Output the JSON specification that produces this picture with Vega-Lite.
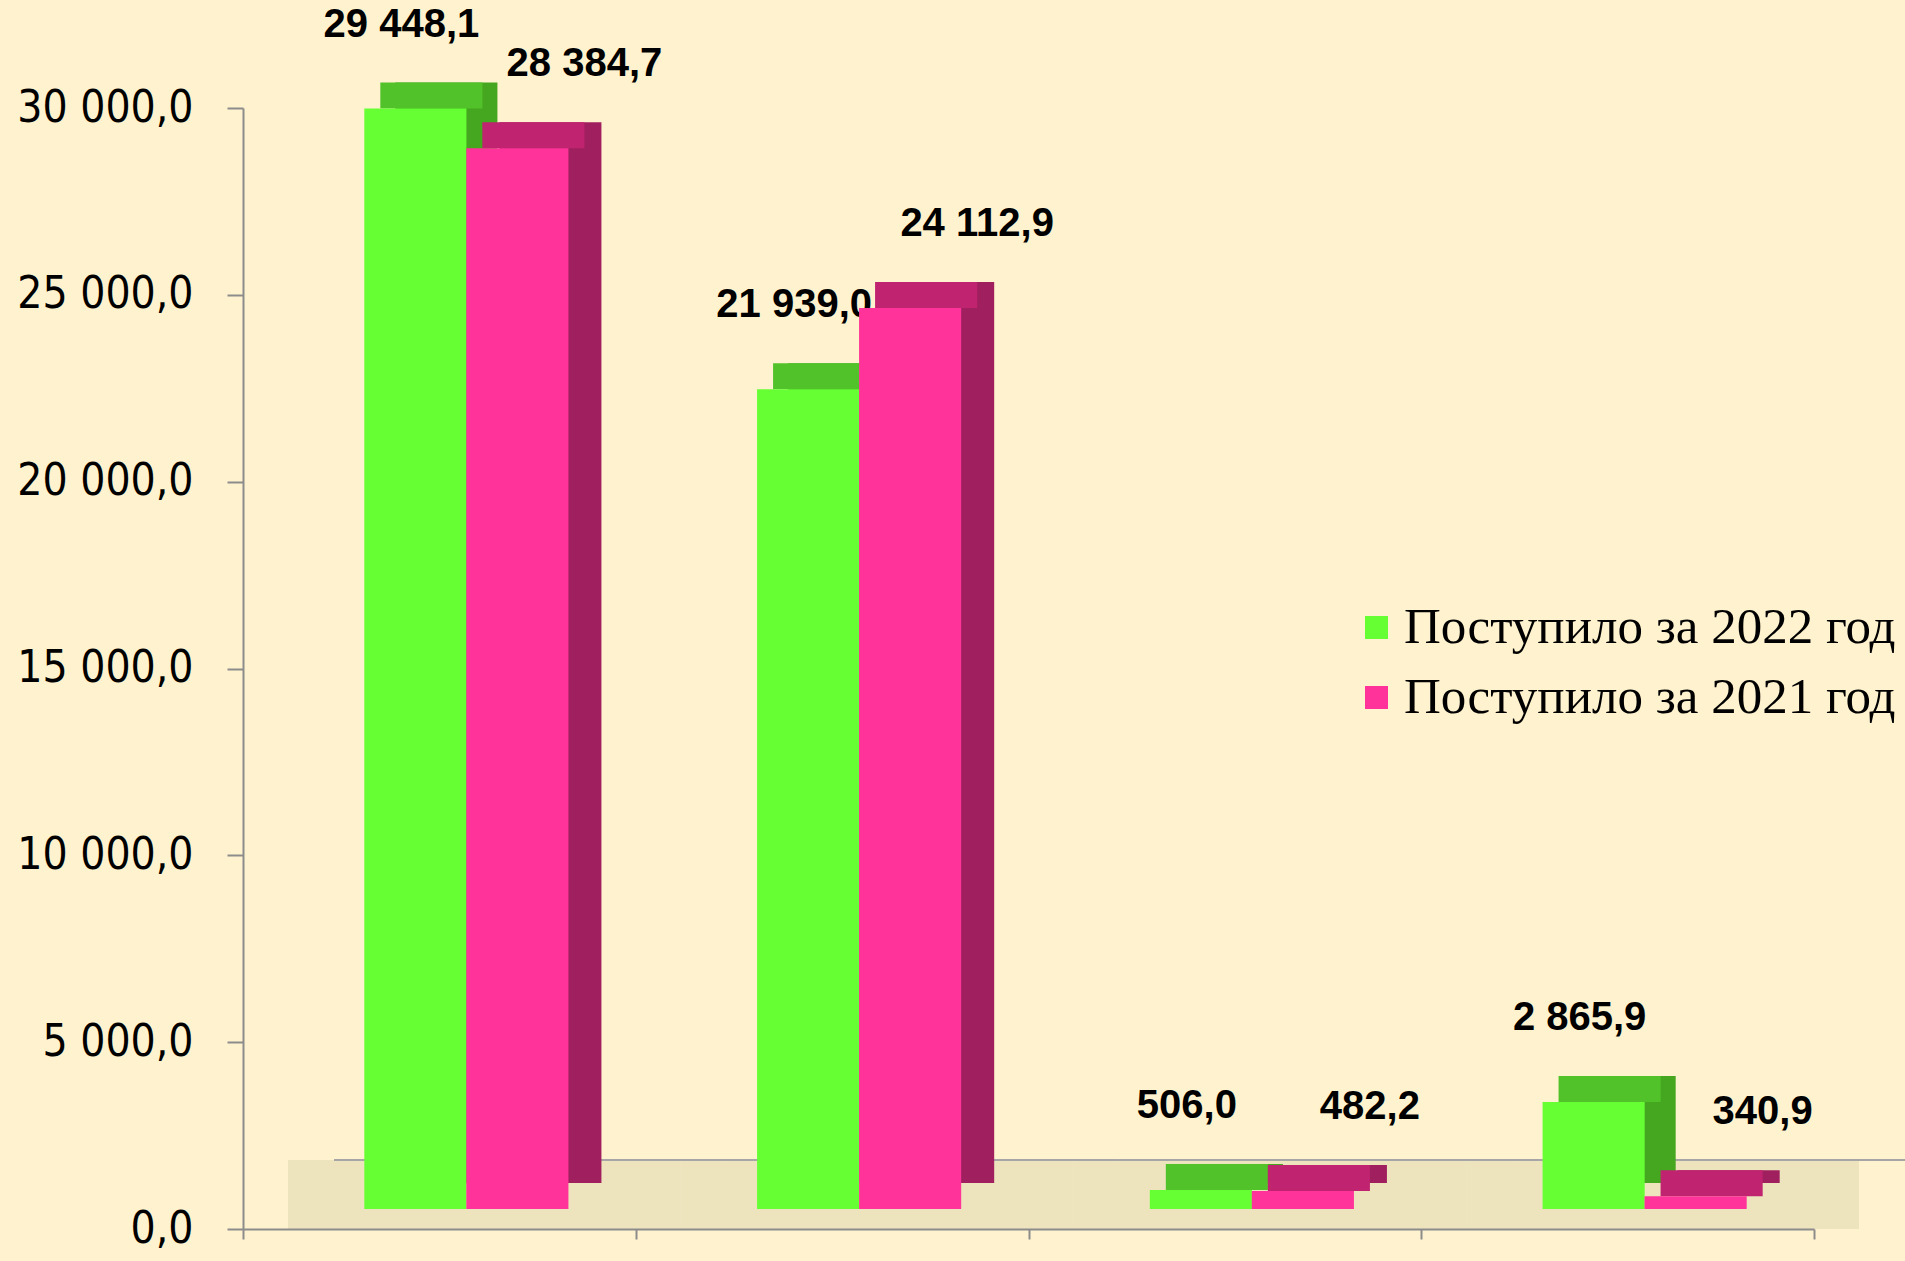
{
  "$schema": "https://vega.github.io/schema/vega-lite/v6.json",
  "width": 1571,
  "height": 1121,
  "autosize": {"type": "none"},
  "padding": {"left": 243, "top": 108, "right": 91, "bottom": 32},
  "background": "#FFF2CE",
  "config": {
    "view": {"stroke": null},
    "locale": {"number": {"decimal": ",", "thousands": " ", "grouping": [3], "currency": ["", ""]}}
  },
  "data": {
    "values": [
      {"cat": "1", "series": "Поступило за 2022 год", "value": 29448.1},
      {"cat": "1", "series": "Поступило за 2021 год", "value": 28384.7},
      {"cat": "2", "series": "Поступило за 2022 год", "value": 21939.0},
      {"cat": "2", "series": "Поступило за 2021 год", "value": 24112.9},
      {"cat": "3", "series": "Поступило за 2022 год", "value": 506.0},
      {"cat": "3", "series": "Поступило за 2021 год", "value": 482.2},
      {"cat": "4", "series": "Поступило за 2022 год", "value": 2865.9},
      {"cat": "4", "series": "Поступило за 2021 год", "value": 340.9}
    ]
  },
  "encoding": {
    "x": {"field": "cat", "type": "nominal", "scale": {"paddingInner": 0, "paddingOuter": 0},
          "axis": {"title": null, "labels": false, "tickBand": "extent", "domainColor": "#8C8C8C", "domainWidth": 2, "tickColor": "#8C8C8C", "tickWidth": 2, "tickSize": 10, "zindex": 1}},
    "y": {"field": "value", "type": "quantitative", "scale": {"domain": [0, 30000], "nice": false},
          "axis": {"title": null, "values": [0, 5000, 10000, 15000, 20000, 25000, 30000], "format": ",.1f", "grid": false,
                   "labelFont": "DejaVu Sans Condensed, Liberation Sans, sans-serif", "labelFontSize": 44, "labelColor": "#000000",
                   "labelPadding": 34, "tickSize": 16, "tickColor": "#8C8C8C", "tickWidth": 2, "domainColor": "#8C8C8C", "domainWidth": 2, "zindex": 1}}
  },
  "layer": [
    {
      "mark": {"type": "bar", "color": "#EDE4BE", "xOffset": 45},
      "encoding": {
        "y": {"datum": 1846, "type": "quantitative", "scale": {"domain": [0, 30000], "nice": false},
              "axis": {"title": null, "values": [0, 5000, 10000, 15000, 20000, 25000, 30000], "format": ",.1f", "grid": false,
                       "labelFont": "DejaVu Sans Condensed, Liberation Sans, sans-serif", "labelFontSize": 44, "labelColor": "#000000",
                       "labelPadding": 34, "tickSize": 16, "tickColor": "#8C8C8C", "tickWidth": 2, "domainColor": "#8C8C8C", "domainWidth": 2, "zindex": 1}},
        "y2": {"datum": 0}
      }
    },
    {
      "mark": {"type": "bar", "color": "#A6A6A6", "xOffset": 91, "yOffset": -1, "y2Offset": 1},
      "encoding": {
        "y": {"datum": 1846, "type": "quantitative", "scale": {"domain": [0, 30000], "nice": false},
              "axis": {"title": null, "values": [0, 5000, 10000, 15000, 20000, 25000, 30000], "format": ",.1f", "grid": false,
                       "labelFont": "DejaVu Sans Condensed, Liberation Sans, sans-serif", "labelFontSize": 44, "labelColor": "#000000",
                       "labelPadding": 34, "tickSize": 16, "tickColor": "#8C8C8C", "tickWidth": 2, "domainColor": "#8C8C8C", "domainWidth": 2, "zindex": 1}},
        "y2": {"datum": 1846}
      }
    },
    {
      "transform": [{"filter": "datum.series === 'Поступило за 2022 год'"}],
      "layer": [
        {
          "mark": {"type": "bar", "color": "#45A61F", "width": {"band": 0.26}, "xOffset": 7, "yOffset": -46, "y2Offset": -46}
        },
        {
          "mark": {"type": "bar", "color": "#52C22B", "width": {"band": 0.26}, "xOffset": -8, "yOffset": -46, "y2Offset": -20},
          "encoding": {"y2": {"field": "value"}}
        },
        {
          "mark": {"type": "bar", "width": {"band": 0.26}, "xOffset": -24, "yOffset": -20, "y2Offset": -20},
          "encoding": {
            "color": {"field": "series", "type": "nominal",
                      "scale": {"domain": ["Поступило за 2022 год", "Поступило за 2021 год"], "range": ["#66FF33", "#FF3399"]},
                      "legend": {"title": null, "orient": "none", "legendX": 1108, "legendY": 494, "symbolType": "square", "symbolSize": 530,
                                 "symbolStrokeWidth": 0, "labelFont": "Liberation Serif, Times New Roman, serif", "labelFontSize": 51,
                                 "labelColor": "#000000", "labelOffset": 2, "rowPadding": 18, "labelLimit": 800}}
          }
        },
        {
          "mark": {"type": "text", "font": "Liberation Sans Narrow, Arial Narrow, Liberation Sans, sans-serif", "fontWeight": "bold", "fontSize": 40, "color": "#000000", "baseline": "middle", "align": "center", "dx": -38, "dy": -104},
          "encoding": {
            "text": {"field": "value", "type": "quantitative", "format": ",.1f"}
          }
        }
      ]
    },
    {
      "transform": [{"filter": "datum.series === 'Поступило за 2021 год'"}],
      "layer": [
        {
          "mark": {"type": "bar", "color": "#A01F5E", "width": {"band": 0.26}, "xOffset": 111, "yOffset": -46, "y2Offset": -46}
        },
        {
          "mark": {"type": "bar", "color": "#C02370", "width": {"band": 0.26}, "xOffset": 94, "yOffset": -46, "y2Offset": -20},
          "encoding": {"y2": {"field": "value"}}
        },
        {
          "mark": {"type": "bar", "width": {"band": 0.26}, "xOffset": 78, "yOffset": -20, "y2Offset": -20},
          "encoding": {
            "color": {"field": "series", "type": "nominal",
                      "scale": {"domain": ["Поступило за 2022 год", "Поступило за 2021 год"], "range": ["#66FF33", "#FF3399"]},
                      "legend": {"title": null, "orient": "none", "legendX": 1108, "legendY": 494, "symbolType": "square", "symbolSize": 530,
                                 "symbolStrokeWidth": 0, "labelFont": "Liberation Serif, Times New Roman, serif", "labelFontSize": 51,
                                 "labelColor": "#000000", "labelOffset": 2, "rowPadding": 18, "labelLimit": 800}}
          }
        },
        {
          "mark": {"type": "text", "font": "Liberation Sans Narrow, Arial Narrow, Liberation Sans, sans-serif", "fontWeight": "bold", "fontSize": 40, "color": "#000000", "baseline": "middle", "align": "center", "dx": 145, "dy": -104},
          "encoding": {
            "text": {"field": "value", "type": "quantitative", "format": ",.1f"}
          }
        }
      ]
    }
  ]
}
